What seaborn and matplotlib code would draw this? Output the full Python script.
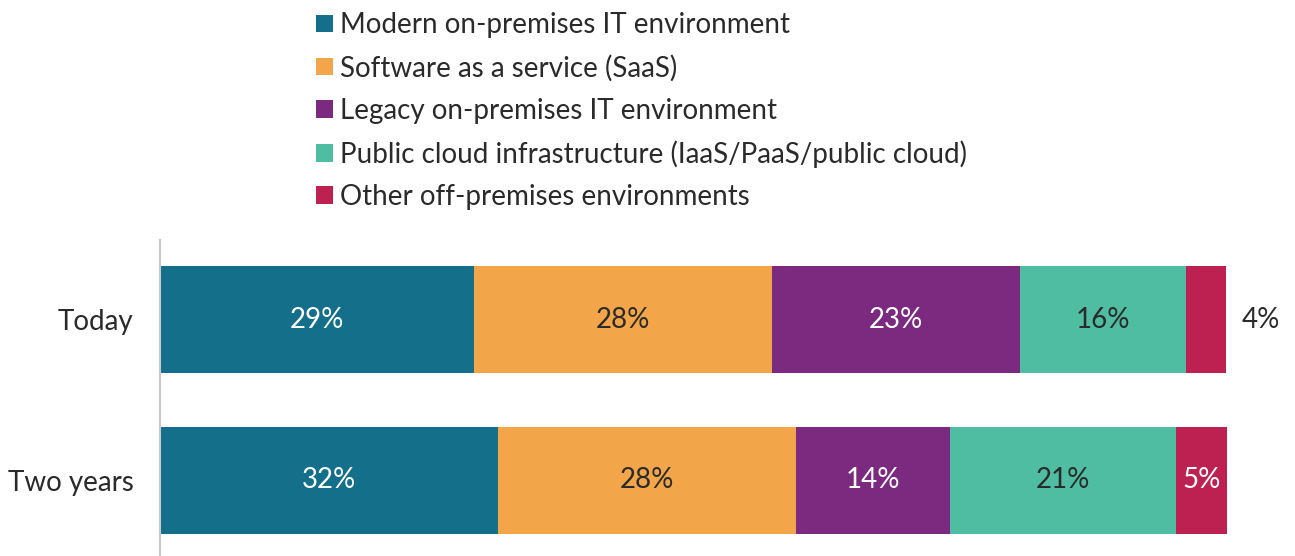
import matplotlib
matplotlib.use("Agg")
import matplotlib.pyplot as plt
from matplotlib.patches import Patch
import seaborn as sns
import pandas as pd
import numpy as np

categories = ["Today", "Two years"]
series = [
    "Modern on-premises IT environment",
    "Software as a service (SaaS)",
    "Legacy on-premises IT environment",
    "Public cloud infrastructure (IaaS/PaaS/public cloud)",
    "Other off-premises environments",
]
modern = [29.4, 31.7]
saas = [28.0, 27.9]
legacy = [23.2, 14.4]
public_cloud = [15.6, 21.2]
other = [3.7, 4.8]
labels_today = ["29%", "28%", "23%", "16%", "4%"]
labels_two_years = ["32%", "28%", "14%", "21%", "5%"]

colors = ["#136F8A", "#F2A649", "#7B2A80", "#4FBDA1", "#BC2151"]
label_colors = ["white", "#2a2a2a", "white", "#2a2a2a", "white"]
TEXT = "#2a2a2a"

sns.set_theme(style="white")
plt.rcParams["font.family"] = ["Lato", "DejaVu Sans"]

values = np.array([modern, saas, legacy, public_cloud, other])  # series x category
cum = values.cumsum(axis=0)

fig = plt.figure(figsize=(12.95, 5.56), dpi=100)
W, H = 1295, 556
ax = fig.add_axes([160 / W, 0, (1227 - 160) / W, (556 - 240) / H])

# draw stacked bars: widest cumulative first, smaller overlay
for i in range(len(series) - 1, -1, -1):
    df = pd.DataFrame({"category": categories, "value": cum[i]})
    sns.barplot(data=df, x="value", y="category", orient="h", color=colors[i],
                width=107 / 161, saturation=1, ax=ax, linewidth=0, order=categories)

ax.set_xlim(0, 100)
top_px, bot_px = 240, 556
ax.set_ylim((bot_px - 319.5) / 161, (top_px - 319.5) / 161)

FS = 20
all_labels = [labels_today, labels_two_years]
for j, cat in enumerate(categories):
    for i in range(len(series)):
        v = values[i, j]
        center = cum[i, j] - v / 2
        lab = all_labels[j][i]
        col = label_colors[i]
        x = center
        if v < 4.0:
            x = cum[i, j] + 3.3
            col = TEXT
        ax.text(x, j, lab, ha="center", va="center", color=col, fontsize=FS,
                clip_on=False)

ax.set_xlabel("")
ax.set_ylabel("")
ax.set_xticks([])
ax.tick_params(axis="y", length=0, pad=19, labelsize=FS, labelcolor=TEXT)
for s in ["top", "right", "bottom"]:
    ax.spines[s].set_visible(False)
ax.spines["left"].set_color("#C8C8C8")
ax.spines["left"].set_linewidth(1.5)

handles = [Patch(facecolor=c, edgecolor="none") for c in colors]
leg = fig.legend(handles, series, loc="upper left", bbox_to_anchor=(297 / W, 1 + 7 / H),
                 frameon=False, handlelength=0.58, handleheight=0.58,
                 handletextpad=0.25, labelspacing=0.585, borderpad=0.2, labelcolor=TEXT,
                 prop={"size": FS})

fig.savefig("out.png", dpi=100)
